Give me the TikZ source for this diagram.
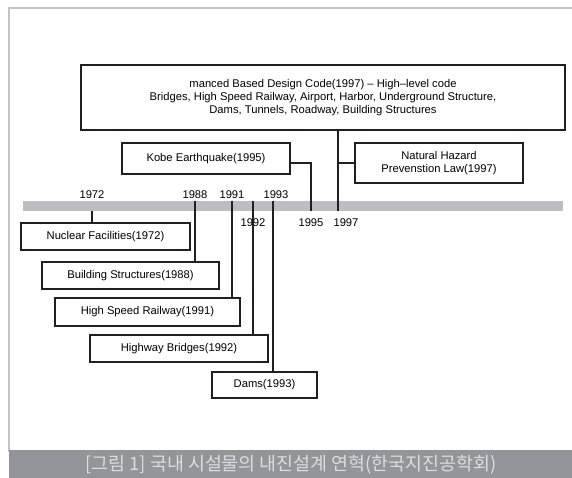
\documentclass[tikz,border=0pt]{standalone}
\usepackage{fontspec}
\setmainfont{Liberation Sans}
\newfontfamily\cjk{Noto Sans CJK KR}
\definecolor{boxline}{HTML}{231F20}
\definecolor{barfill}{HTML}{BCBEC0}
\definecolor{framegray}{HTML}{C4C4C4}
\definecolor{capfill}{HTML}{939598}
\definecolor{captext}{HTML}{DCDCDC}

\begin{document}
\begin{tikzpicture}[x=0.75pt, y=-0.75pt,
        every node/.style={font=\fontsize{8.4}{9.8}\selectfont},
        yearbox/.style={rectangle, draw=boxline, line width=1.8pt, inner sep=0pt, align=center},
        tick/.style={draw=boxline, line width=0.8pt}]
            \useasboundingbox (0,0) rectangle (572,478);

            % frame and caption
            \draw[framegray, line width=0.8pt] (572,8) -- (9,8) -- (9,452);
            \fill[capfill] (9,450) rectangle (572,478);
            \node (caption) at (291,465) [text=captext, font=\cjk\fontsize{13.8}{15}\selectfont]
                {[그림 1] 국내 시설물의 내진설계 연혁(한국지진공학회)};

            % Nodes
            \node (timeline) at (293,206) [rectangle, fill=barfill, inner sep=0pt,
                minimum width=405pt, minimum height=7.5pt] {};
            \node (code) at (323,97.5) [yearbox, minimum width=363pt, minimum height=48.75pt]
                {manced Based Design Code(1997) -- High--level code\\
                 Bridges, High Speed Railway, Airport, Harbor, Underground Structure,\\
                 Dams, Tunnels, Roadway, Building Structures};
            \node (kobe) at (206,158.5) [yearbox, minimum width=126pt, minimum height=23.25pt] {Kobe Earthquake(1995)};
            \node (law) at (439,163) [yearbox, minimum width=126pt, minimum height=30pt] {Natural Hazard\\Prevenstion Law(1997)};
            \node (nuclear) at (105.5,236.5) [yearbox, minimum width=126.75pt, minimum height=20.25pt] {Nuclear Facilities(1972)};
            \node (building) at (130.5,275.5) [yearbox, minimum width=132.75pt, minimum height=20.25pt] {Building Structures(1988)};
            \node (railway) at (147.5,312) [yearbox, minimum width=138.75pt, minimum height=21pt] {High Speed Railway(1991)};
            \node (highway) at (179,348.5) [yearbox, minimum width=133.5pt, minimum height=20.25pt] {Highway Bridges(1992)};
            \node (dams) at (264.5,385) [yearbox, minimum width=78.75pt, minimum height=19.5pt] {Dams(1993)};

            % years on the line
            \coordinate (y1972) at (92,206);
            \coordinate (y1988) at (195,206);
            \coordinate (y1991) at (232,206);
            \coordinate (y1992) at (253,206);
            \coordinate (y1993) at (273,206);
            \coordinate (y1995) at (311,206);
            \coordinate (y1997) at (338,206);
            \node (l1972) at (92,195) {1972};
            \node (l1988) at (195,195) {1988};
            \node (l1991) at (232,195) {1991};
            \node (l1993) at (276,195) {1993};
            \node (l1992) at (253,223) {1992};
            \node (l1995) at (311,223) {1995};
            \node (l1997) at (346,223) {1997};

            % Edges
            \draw[tick] (y1972 |- timeline.south) -- (y1972 |- nuclear.north);
            \draw[tick] (y1988 |- timeline.north) -- (y1988 |- building.north);
            \draw[tick] (y1991 |- timeline.north) -- (y1991 |- railway.north);
            \draw[tick] (y1992 |- timeline.north) -- (y1992 |- highway.north);
            \draw[tick] (y1993 |- timeline.north) -- (y1993 |- dams.north);
            \draw[tick] (kobe.east |- law.west) -| (y1995 |- timeline.south);
            \draw[tick] (code.south -| y1997) -- (y1997 |- timeline.south);
            \draw[tick] (y1997 |- law.west) -- (law.west);

        \end{tikzpicture}
\end{document}
